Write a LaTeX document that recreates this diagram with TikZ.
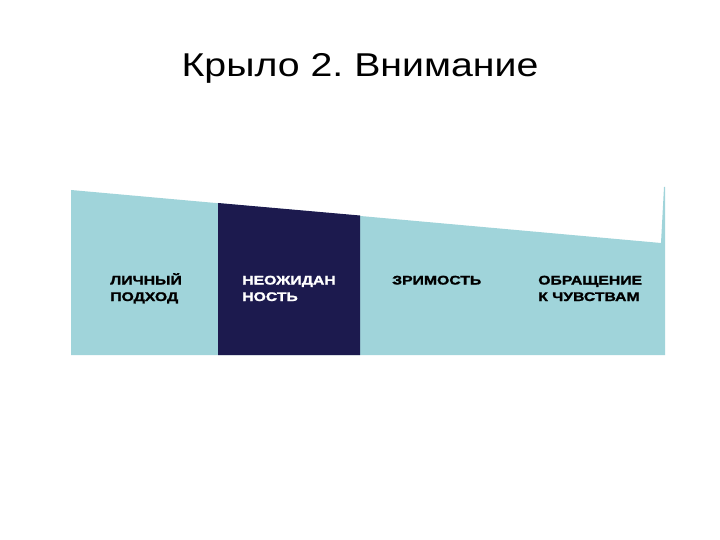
\documentclass[tikz,border=0pt]{standalone}
\usepackage{fontspec}
\setmainfont{Liberation Sans}
\newfontfamily\lblfont[FakeBold=1.3]{Liberation Sans Bold}
\definecolor{lightteal}{HTML}{A0D4DA}
\definecolor{navy}{HTML}{1C1A4E}
\frenchspacing
\begin{document}
\begin{tikzpicture}[x=1pt,y=-1pt,
  lbl/.style={anchor=base west,inner sep=0pt,align=left,xscale=1.26,font=\fontsize{12.5}{16.5}\selectfont\lblfont},
]
\useasboundingbox (0,0) rectangle (720,540);
\fill[white] (0,0) rectangle (720,540);
% light band
\fill[lightteal] (71,190) -- (661,243) -- (664,187) -- (665,187) -- (665,355) -- (71,355) -- cycle;
% dark block
\fill[navy] (218,203) -- (360,215.5) -- (360,355) -- (218,355) -- cycle;
\node[anchor=base,inner sep=0pt,xscale=1.19,font=\fontsize{33}{40}\selectfont] (title) at (360,77) {Крыло 2. Внимание};
\node[lbl] (l1) at (110,301) {ЛИЧНЫЙ\\ПОДХОД};
\node[lbl,text=white] (l2) at (242,301) {НЕОЖИДАН\\НОСТЬ};
\node[lbl] (l3) at (392,284.5) {ЗРИМОСТЬ};
\node[lbl] (l4) at (538,301) {ОБРАЩЕНИЕ\\К ЧУВСТВАМ};
\end{tikzpicture}
\end{document}
